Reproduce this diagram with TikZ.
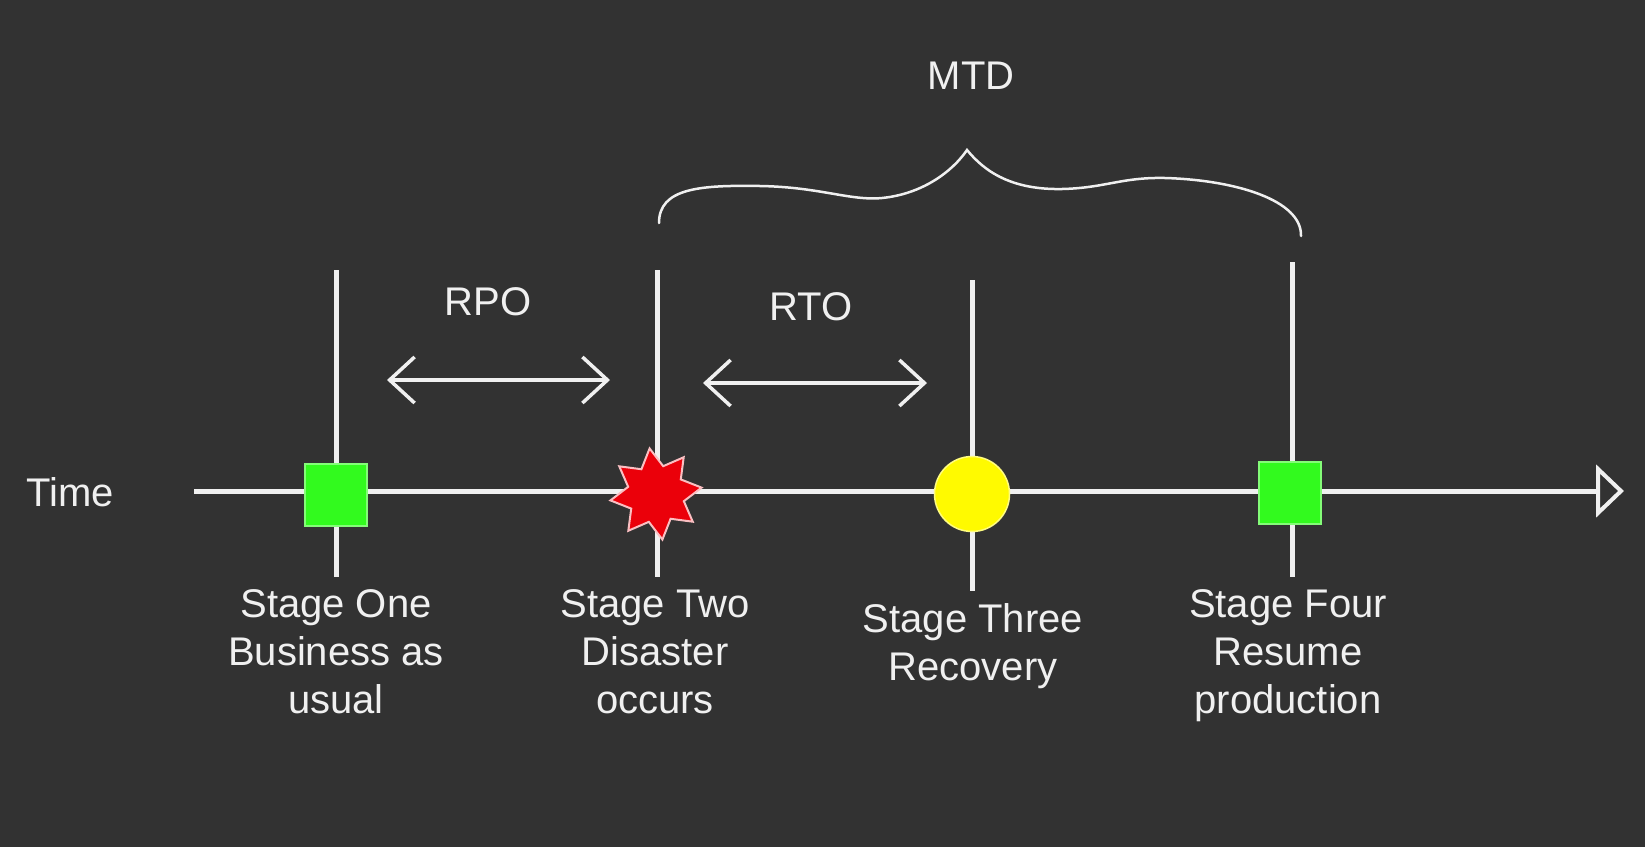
\documentclass[tikz,border=0pt]{standalone}
\usepackage{fontspec}
\setmainfont{Liberation Sans}
\usetikzlibrary{arrows.meta,shapes.geometric}
\definecolor{bg}{RGB}{50,50,50}
\definecolor{chalk}{RGB}{240,240,240}
\definecolor{mgreen}{RGB}{50,250,30}
\definecolor{myellow}{RGB}{255,250,0}
\definecolor{mred}{RGB}{235,0,10}
\begin{document}
\begin{tikzpicture}[x=1pt,y=-1pt,
  tick/.style={line width=5pt, draw=chalk},
  lbl/.style={text=chalk, font=\fontsize{40}{48}\selectfont, inner sep=0pt},
  stagelbl/.style={lbl, align=center, anchor=north},
  dbl/.style={line width=3.5pt, draw=chalk,
    {Straight Barb[length=25pt,width=46pt]}-{Straight Barb[length=25pt,width=46pt]}},
  sq/.style={rectangle, fill=mgreen, draw=mgreen!60!white, line width=1.5pt, minimum size=62pt, inner sep=0pt}
]
\fill[bg] (0,0) rectangle (1645,847);
\useasboundingbox (0,0) rectangle (1645,847);

% tick lines
\coordinate (t1top) at (336,270); \coordinate (t1bot) at (336,577);
\coordinate (t2top) at (657,270); \coordinate (t2bot) at (657,577);
\coordinate (t3top) at (972,280); \coordinate (t3bot) at (972,591);
\coordinate (t4top) at (1292,262); \coordinate (t4bot) at (1292,577);
\draw[tick] (t1top) -- (t1bot);
\draw[tick] (t2top) -- (t2bot);
\draw[tick] (t3top) -- (t3bot);
\draw[tick] (t4top) -- (t4bot);

% timeline
\coordinate (tstart) at (194,491);
\coordinate (tend) at (1598,491);
\draw[line width=5pt, draw=chalk] (tstart) -- (tend);
\draw[line width=4pt, draw=chalk, fill=bg, line join=miter] (1598,469) -- (1621,491) -- (1598,513) -- cycle;

% markers
\node[sq] (m1) at (336,495) {};
\node[star, star points=8, star point ratio=1.6, minimum size=92pt, inner sep=0pt,
      fill=mred, draw=mred!25!white, line width=2pt, rotate=8] (m2) at (656,494) {};
\node[circle, fill=myellow, draw=myellow!50!white, line width=1.5pt, minimum size=75pt, inner sep=0pt] (m3) at (972,494) {};
\node[sq] (m4) at (1290,493) {};

% arrows
\coordinate (rpoL) at (387,380); \coordinate (rpoR) at (610,380);
\coordinate (rtoL) at (703,383); \coordinate (rtoR) at (927,383);
\draw[dbl] (rpoL) -- (rpoR);
\draw[dbl] (rtoL) -- (rtoR);

% brace
\draw[line width=2.5pt, draw=chalk, line cap=round]
  (659,223) .. controls (659,188) and (700,185) .. (760,186)
  .. controls (820,187) and (850,201) .. (882,198)
  .. controls (922,194) and (952,172) .. (967,150)
  .. controls (985,172) and (1012,190) .. (1062,189)
  .. controls (1105,188) and (1122,177) .. (1165,178)
  .. controls (1235,180) and (1302,200) .. (1301,236);

% labels
\node[lbl, anchor=base] (time) at (70,506) {Time};
\node[lbl, anchor=base] (rpo) at (488,315) {RPO};
\node[lbl, anchor=base] (rto) at (811,320) {RTO};
\node[lbl, anchor=base] (mtd) at (971,89) {MTD};
\node[stagelbl] (s1) at (336,589) {Stage One\\Business as\\usual};
\node[stagelbl] (s2) at (655,589) {Stage Two\\Disaster\\occurs};
\node[stagelbl] (s3) at (973,603) {Stage Three\\Recovery};
\node[stagelbl] (s4) at (1288,589) {Stage Four\\Resume\\production};
\end{tikzpicture}
\end{document}
